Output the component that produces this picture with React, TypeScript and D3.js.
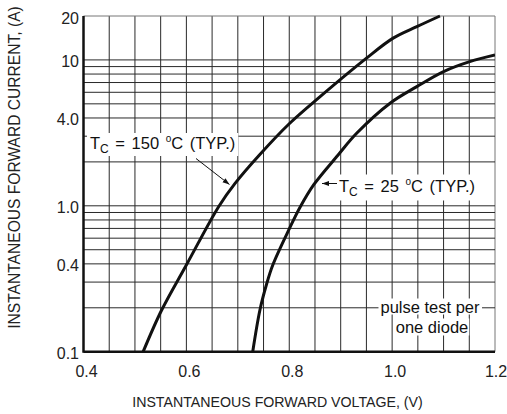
import { useRef, useEffect } from 'react';
import * as d3 from 'd3';

const WIDTH = 507;
const HEIGHT = 414;

// forward voltage (V) vs current (A)
const hotVolts = [0.516, 0.552, 0.6, 0.663, 0.695, 0.742, 0.801, 0.86, 0.949, 1.002, 1.048, 1.093];
const hotAmps = [0.1, 0.193, 0.393, 0.99, 1.43, 2.23, 3.68, 5.6, 10.2, 14.1, 16.9, 20];
const roomVolts = [0.729, 0.743, 0.756, 0.768, 0.8, 0.821, 0.848, 0.895, 0.931, 0.996, 1.048, 1.1, 1.151, 1.2];
const roomAmps = [0.1, 0.193, 0.291, 0.393, 0.694, 0.977, 1.4, 2.23, 3.14, 5.05, 6.56, 8.32, 9.73, 10.8];

const xTicks = [0.4, 0.6, 0.8, 1.0, 1.2];
const yTicks = [20, 10, 4, 1, 0.4, 0.1];
const yTickLabels = ['20', '10', '4.0', '1.0', '0.4', '0.1'];
const yGrid = [0.2, 0.3, 0.4, 0.5, 0.6, 0.7, 0.8, 0.9, 1, 2, 3, 4, 5, 6, 7, 8, 9, 10, 20];

const NARROW = '"Liberation Sans Narrow", "Liberation Sans", Arial, sans-serif';
const SANS = '"Liberation Sans", Arial, sans-serif';

type TextSel = d3.Selection<SVGTextElement, unknown, null, undefined>;

function drawChart(svgEl: SVGSVGElement) {
  const svg = d3.select(svgEl);
  svg.selectAll('*').remove();

  const left = 83.5, right = 495, top = 16, bottom = 351.7;
  const x = d3.scaleLinear().domain([0.4, 1.2]).range([left, right]);
  const y = d3.scaleLog().domain([0.1, 20]).range([bottom, top]);

  svg.append('defs').append('marker')
    .attr('id', 'arr')
    .attr('viewBox', '0 0 10 10')
    .attr('refX', 10).attr('refY', 5)
    .attr('markerWidth', 7).attr('markerHeight', 7)
    .attr('orient', 'auto')
    .attr('markerUnits', 'userSpaceOnUse')
    .append('path').attr('d', 'M0,1.5 L10,5 L0,8.5 Z').attr('fill', '#111');

  const grid = svg.append('g').attr('stroke-width', 1);
  d3.range(1, 17).forEach(i => {
    const v = 0.4 + i * 0.05;
    grid.append('line')
      .attr('x1', x(v)).attr('x2', x(v)).attr('y1', top).attr('y2', bottom)
      .attr('stroke', i === 16 ? '#777' : '#2a2a2a');
  });
  yGrid.forEach(v => {
    grid.append('line')
      .attr('x1', left).attr('x2', right).attr('y1', y(v)).attr('y2', y(v))
      .attr('stroke', v === 20 ? '#777' : '#2a2a2a');
  });

  // axes
  svg.append('line').attr('x1', left).attr('x2', left).attr('y1', top).attr('y2', bottom + 1)
    .attr('stroke', '#111').attr('stroke-width', 2.5);
  svg.append('line').attr('x1', left).attr('x2', right).attr('y1', bottom).attr('y2', bottom)
    .attr('stroke', '#111').attr('stroke-width', 2.5);

  svg.append('clipPath').attr('id', 'plot')
    .append('rect').attr('x', left).attr('y', top - 2).attr('width', right - left).attr('height', bottom - top + 2);

  const line = d3.line<[number, number]>()
    .x(d => x(d[0]))
    .y(d => y(d[1]))
    .curve(d3.curveCatmullRom.alpha(0.5));

  [d3.zip(hotVolts, hotAmps), d3.zip(roomVolts, roomAmps)].forEach(c => {
    svg.append('path').attr('d', line(c as [number, number][]) ?? '')
      .attr('fill', 'none').attr('stroke', '#111').attr('stroke-width', 3)
      .attr('clip-path', 'url(#plot)');
  });

  // labels with white boxes behind them
  const labelLayer = svg.append('g').attr('font-family', SANS).attr('fill', '#111');

  const boxed = (build: (t: TextSel) => void, padX: number, padTop: number, padBottom: number) => {
    const g = labelLayer.append('g');
    const bg = g.append('rect').attr('fill', '#fff');
    const t = g.append('text') as unknown as TextSel;
    build(t);
    const bb = (t.node() as SVGTextElement).getBBox();
    bg.attr('x', bb.x - padX).attr('y', bb.y - padTop)
      .attr('width', bb.width + padX * 2).attr('height', bb.height + padTop + padBottom);
  };

  const tempLabel = (tx: number, ty: number, temp: string) => (t: TextSel) => {
    t.attr('x', tx).attr('y', ty).attr('font-size', 16.5).attr('word-spacing', 2);
    t.append('tspan').text('T');
    t.append('tspan').attr('font-size', 12).attr('dy', 4).text('C');
    t.append('tspan').attr('dy', -4).text(` = ${temp} `);
    t.append('tspan').attr('font-size', 10).attr('dy', -7).text('o');
    t.append('tspan').attr('dy', 7).text('C (TYP.)');
  };

  boxed(tempLabel(90, 149, '150'), 3, 0, 0);
  boxed(tempLabel(339, 191.5, '25'), 3, 1, 2);

  boxed(t => {
    t.attr('x', 430).attr('y', 312.5).attr('font-size', 16.5).attr('text-anchor', 'middle').text('pulse test per');
  }, 2, -1, -1);
  boxed(t => {
    t.attr('x', 432).attr('y', 332.5).attr('font-size', 16.5).attr('text-anchor', 'middle').text('one diode');
  }, 1, -1, 0);

  // arrows
  svg.append('line').attr('x1', 196).attr('y1', 158.5).attr('x2', 229.5).attr('y2', 184.5)
    .attr('stroke', '#111').attr('stroke-width', 1).attr('marker-end', 'url(#arr)');
  svg.append('line').attr('x1', 337).attr('y1', 183.5).attr('x2', 322).attr('y2', 183.5)
    .attr('stroke', '#111').attr('stroke-width', 1).attr('marker-end', 'url(#arr)');

  // tick labels
  const ticks = svg.append('g').attr('font-family', NARROW).attr('font-size', 16).attr('fill', '#222');
  xTicks.forEach(v => {
    ticks.append('text').attr('x', x(v) + (v > 1.1 ? 1 : 3)).attr('y', 376.7).attr('text-anchor', 'middle')
      .text(v.toFixed(1));
  });
  yTicks.forEach((v, i) => {
    ticks.append('text').attr('x', 79).attr('y', y(v) + 2).attr('text-anchor', 'end')
      .attr('dominant-baseline', 'central').text(yTickLabels[i]);
  });

  // axis titles
  svg.append('text').attr('x', 277.5).attr('y', 407).attr('text-anchor', 'middle')
    .attr('font-family', SANS).attr('font-size', 14.2).attr('fill', '#222')
    .text('INSTANTANEOUS FORWARD VOLTAGE, (V)');
  svg.append('text').attr('transform', 'translate(20,167.5) rotate(-90)').attr('text-anchor', 'middle')
    .attr('font-family', SANS).attr('font-size', 15.6).attr('fill', '#222')
    .text('INSTANTANEOUS FORWARD CURRENT, (A)');
}

export default function App() {
  const svgRef = useRef<SVGSVGElement>(null);

  useEffect(() => {
    document.body.style.margin = '0';
    if (svgRef.current) drawChart(svgRef.current);
  }, []);

  return (
    <div style={{ width: WIDTH, height: HEIGHT, background: '#fff' }}>
      <svg ref={svgRef} width={WIDTH} height={HEIGHT} style={{ display: 'block' }} />
    </div>
  );
}
